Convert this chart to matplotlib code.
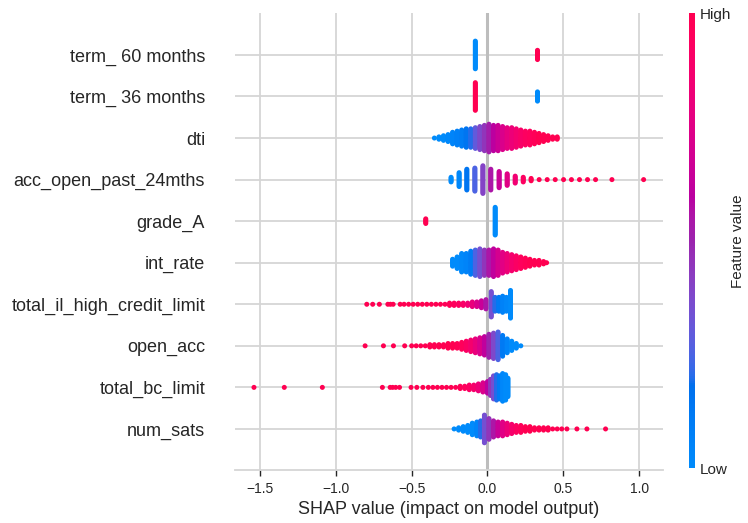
import numpy as np
import matplotlib
matplotlib.use("Agg")
import matplotlib.pyplot as plt
from matplotlib.colors import LinearSegmentedColormap, Normalize
from matplotlib.cm import ScalarMappable

plt.rcParams['font.family'] = ['Liberation Sans', 'DejaVu Sans']

# rows from bottom to top
features = ["num_sats", "total_bc_limit", "open_acc", "total_il_high_credit_limit",
            "int_rate", "grade_A", "acc_open_past_24mths", "dti",
            "term_ 36 months", "term_ 60 months"]

# each feature: shap value of a stack, number of points in it, feature value (0 low .. 1 high)
num_sats_x = [-0.22, -0.19, -0.16, -0.13, -0.10, -0.07, -0.045, -0.02, 0.01, 0.04, 0.07, 0.10,
              0.13, 0.16, 0.19, 0.22, 0.25, 0.28, 0.31, 0.34, 0.37, 0.40, 0.43, 0.46, 0.49,
              0.524, 0.59, 0.656, 0.779]
num_sats_n = [1, 3, 5, 7, 11, 13, 15, 25, 19, 15, 13, 13, 11, 9, 7, 7, 5, 5, 3, 3, 3, 3, 1, 1, 1,
              1, 1, 1, 1]
num_sats_c = [0, 0, 0, 0, 0, 0.05, 0.2, 0.35, 0.45, 0.55, 0.65, 0.75, 0.82, 0.88, 0.93, 0.96,
              1, 1, 1, 1, 1, 1, 1, 1, 1, 1, 1, 1, 1]

total_bc_limit_x = [-1.54, -1.34, -1.089, -0.693, -0.642, -0.625, -0.605, -0.58, -0.504, -0.466,
                    -0.426, -0.39, -0.36, -0.33, -0.30, -0.27, -0.24, -0.21, -0.18, -0.15, -0.12,
                    -0.09, -0.06, -0.03, 0.0, 0.02, 0.04, 0.06, 0.08, 0.10, 0.12, 0.135]
total_bc_limit_n = [1, 1, 1, 1, 1, 1, 1, 1, 1, 1, 1, 1, 1, 1, 1, 1, 1, 1, 3, 3, 5, 5, 7, 9, 11,
                    15, 21, 23, 21, 25, 23, 17]
total_bc_limit_c = [1, 1, 1, 1, 1, 1, 1, 1, 1, 1, 1, 1, 1, 1, 1, 1, 1, 0.98, 0.97, 0.95, 0.92,
                    0.88, 0.82, 0.72, 0.6, 0.45, 0.35, 0.2, 0.1, 0.03, 0, 0]

open_acc_x = [-0.807, -0.686, -0.62, -0.546, -0.50, -0.47, -0.44, -0.41, -0.38, -0.35, -0.32,
              -0.29, -0.26, -0.23, -0.20, -0.17, -0.14, -0.11, -0.08, -0.05, -0.02, 0.01, 0.04,
              0.07, 0.10, 0.13, 0.16, 0.19, 0.22]
open_acc_n = [1, 1, 1, 1, 1, 1, 1, 1, 3, 3, 3, 3, 5, 5, 5, 7, 9, 11, 13, 15, 17, 21, 23, 25, 19,
              13, 9, 5, 1]
open_acc_c = [1, 1, 1, 1, 1, 1, 1, 1, 1, 1, 1, 1, 1, 1, 0.98, 0.96, 0.92, 0.87, 0.8, 0.72, 0.62,
              0.5, 0.38, 0.25, 0.12, 0.05, 0, 0, 0]

total_il_x = [-0.796, -0.757, -0.713, -0.657, -0.640, -0.622, -0.576, -0.55, -0.52, -0.49, -0.46,
              -0.43, -0.40, -0.37, -0.34, -0.31, -0.28, -0.25, -0.22, -0.19, -0.16, -0.13, -0.10,
              -0.07, -0.04, -0.01, 0.025, 0.05, 0.075, 0.10, 0.125, 0.152]
total_il_n = [1, 1, 1, 1, 1, 1, 1, 1, 1, 1, 1, 1, 1, 1, 1, 1, 1, 3, 3, 3, 3, 3, 5, 5, 7, 9, 23,
              13, 13, 15, 13, 25]
total_il_c = [1, 1, 1, 1, 1, 1, 1, 1, 1, 1, 1, 1, 1, 1, 1, 1, 0.98, 0.97, 0.95, 0.93, 0.9, 0.85,
              0.8, 0.72, 0.65, 0.55, 0.35, 0.2, 0.12, 0.06, 0.03, 0]

int_rate_x = [-0.23, -0.20, -0.17, -0.14, -0.11, -0.08, -0.05, -0.02, 0.01, 0.04, 0.07, 0.10,
              0.13, 0.16, 0.19, 0.22, 0.25, 0.28, 0.31, 0.34, 0.37, 0.39]
int_rate_n = [7, 11, 17, 17, 21, 23, 25, 23, 23, 25, 23, 19, 17, 15, 13, 11, 9, 7, 5, 5, 3, 1]
int_rate_c = [0, 0, 0.02, 0.05, 0.1, 0.25, 0.35, 0.45, 0.55, 0.62, 0.7, 0.76, 0.82, 0.87, 0.92,
              0.95, 0.98, 1, 1, 1, 1, 1]

grade_a_x = [-0.407, 0.051]
grade_a_n = [5, 25]
grade_a_c = [1, 0]

acc_open_x = [-0.24, -0.187, -0.136, -0.083, -0.03, 0.022, 0.077, 0.13, 0.183, 0.236, 0.288,
              0.341, 0.394, 0.447, 0.502, 0.554, 0.607, 0.66, 0.713, 0.821, 1.03]
acc_open_n = [5, 13, 19, 21, 25, 19, 15, 11, 7, 5, 3, 1, 1, 1, 1, 1, 1, 1, 1, 1, 1]
acc_open_c = [0, 0.03, 0.15, 0.25, 0.4, 0.55, 0.65, 0.75, 0.85, 0.93, 1, 1, 1, 1, 1, 1, 1, 1, 1,
              1, 1]

dti_x = [-0.35, -0.32, -0.29, -0.26, -0.23, -0.20, -0.17, -0.14, -0.11, -0.08, -0.05, -0.02,
         0.01, 0.04, 0.07, 0.10, 0.13, 0.16, 0.19, 0.22, 0.25, 0.28, 0.31, 0.34, 0.37, 0.40,
         0.43, 0.46]
dti_n = [1, 3, 5, 7, 11, 13, 15, 17, 17, 19, 21, 23, 25, 23, 23, 21, 19, 19, 17, 15, 13, 13, 11,
         9, 7, 5, 3, 3]
dti_c = [0, 0, 0, 0.02, 0.05, 0.08, 0.1, 0.15, 0.2, 0.3, 0.38, 0.45, 0.52, 0.6, 0.66, 0.72, 0.78,
         0.82, 0.86, 0.9, 0.93, 0.95, 0.97, 1, 1, 1, 1, 1]

term36_x = [-0.08, 0.33]
term36_n = [25, 9]
term36_c = [1, 0]

term60_x = [-0.08, 0.33]
term60_n = [25, 9]
term60_c = [0, 1]

rows_x = [num_sats_x, total_bc_limit_x, open_acc_x, total_il_x, int_rate_x, grade_a_x,
          acc_open_x, dti_x, term36_x, term60_x]
rows_n = [num_sats_n, total_bc_limit_n, open_acc_n, total_il_n, int_rate_n, grade_a_n,
          acc_open_n, dti_n, term36_n, term60_n]
rows_c = [num_sats_c, total_bc_limit_c, open_acc_c, total_il_c, int_rate_c, grade_a_c,
          acc_open_c, dti_c, term36_c, term60_c]


def red_blue_cmap():
    # shap style blue -> red colormap, interpolated in LCH space with a darker middle
    t = np.linspace(0, 1, 256)
    L = 54.0 - 14.0 * (1 - np.abs(2 * t - 1))
    C = 70.0 + 20.0 * t
    h = 4.6588 + (0.35470565 + 2 * np.pi - 4.6588) * t
    a = C * np.cos(h)
    b = C * np.sin(h)
    fy = (L + 16) / 116.0
    fx = fy + a / 500.0
    fz = fy - b / 200.0

    def finv(v):
        return np.where(v > 6 / 29, v ** 3, 3 * (6 / 29) ** 2 * (v - 4 / 29))

    xyz = np.stack([0.95047 * finv(fx), finv(fy), 1.08883 * finv(fz)])
    m = np.array([[3.2406, -1.5372, -0.4986], [-0.9689, 1.8758, 0.0415], [0.0557, -0.2040, 1.0570]])
    rgb = np.clip(m @ xyz, 0, 1)
    rgb = np.where(rgb <= 0.0031308, 12.92 * rgb, 1.055 * rgb ** (1 / 2.4) - 0.055)
    return LinearSegmentedColormap.from_list("red_blue", np.clip(rgb.T, 0, 1))


cmap = red_blue_cmap()

fig = plt.figure(figsize=(7.48, 5.23), dpi=100)
ax = fig.add_axes([0.3142, 0.1004, 0.5722, 0.874])

row_height = 0.4
for i in range(len(features)):
    px, py, pc = [], [], []
    max_half = max(int(np.ceil((n - 1) / 2)) for n in rows_n[i])
    scale = 0.9 * row_height / (max_half + 1)
    for x, n, c in zip(rows_x[i], rows_n[i], rows_c[i]):
        k = np.arange(n)
        offs = np.ceil(k / 2) * ((k % 2) * 2 - 1)
        px.extend([x] * n)
        py.extend(i + offs * scale)
        pc.extend([c] * n)
    ax.scatter(px, py, c=pc, cmap=cmap, vmin=0, vmax=1, s=13, linewidth=0, zorder=3)

ax.axvline(0, color="#bdbdbd", lw=2.2, zorder=1)

ax.set_xlim(-1.665, 1.158)
ax.set_ylim(-1, len(features))
ax.set_yticks(range(len(features)))
ax.set_yticklabels(features, fontsize=13, color=".15")
ax.set_xticks([-1.5, -1.0, -0.5, 0.0, 0.5, 1.0])
ax.tick_params(axis="y", length=0, pad=21.6)
ax.tick_params(axis="x", length=4.5, width=1, color=".15", labelsize=10, labelcolor=".15")
ax.set_xlabel("SHAP value (impact on model output)", fontsize=13, color=".15")

ax.grid(True, color="#d5d5d5", lw=1.3)
ax.set_axisbelow(True)
for side in ["top", "right", "left"]:
    ax.spines[side].set_visible(False)
ax.spines["bottom"].set_color("#d5d5d5")
ax.spines["bottom"].set_linewidth(1.3)

cax = fig.add_axes([0.9215, 0.1046, 0.0076, 0.870])
cb = fig.colorbar(ScalarMappable(norm=Normalize(0, 1), cmap=cmap), cax=cax)
cb.set_ticks([0, 1])
cb.set_ticklabels(["Low", "High"])
cb.ax.tick_params(labelsize=11, length=0, labelcolor=".15")
cb.set_label("Feature value", size=11, labelpad=0, color=".15")
cb.outline.set_visible(False)

fig.savefig("out.png", dpi=100)
